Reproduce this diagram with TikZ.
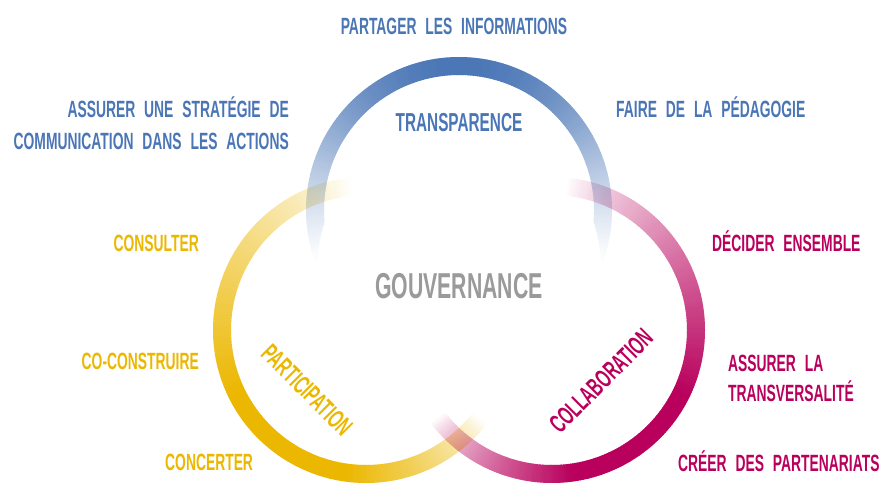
\documentclass[tikz,border=0pt]{standalone}
\usepackage{fontspec}
\setmainfont{Liberation Sans}[FakeStretch=0.59, WordSpace=2.3]
\definecolor{bleu}{HTML}{4A76B6}
\definecolor{jaune}{HTML}{EBB700}
\definecolor{rose}{HTML}{B8005C}
\definecolor{gris}{HTML}{9A9A9A}
\tikzset{
  action/.style={font=\fontsize{23.5}{28}\selectfont\bfseries, inner sep=0pt},
  pilier/.style={font=\fontsize{26}{30}\selectfont\bfseries, inner sep=0pt},
}
\begin{document}
\begin{tikzpicture}[x=1pt,y=1pt]
  \useasboundingbox (0,0) rectangle (880,484);

  % anneau jaune
  \begin{scope}[blend mode=multiply]
  \begin{scope}[transparency group, shift={(366,154)}]
    \foreach \s in {0,...,225}{
      \pgfmathsetmacro\a{96+\s}
      \pgfmathtruncatemacro\p{100*pow(min(1,(\s+0.5)/110),0.8)*pow(min(1,(225.5-\s)/60),0.7)}
      \draw[line width=18pt, draw=jaune!\p!white] (\a:144) arc[start angle=\a, end angle=\a+1.3, radius=144];
    }
  \end{scope}
  \end{scope}

  % anneau rose
  \begin{scope}[blend mode=multiply]
  \begin{scope}[transparency group, shift={(552,154)}]
    \foreach \s in {0,...,225}{
      \pgfmathsetmacro\a{84-\s}
      \pgfmathtruncatemacro\p{100*pow(min(1,(\s+0.5)/110),0.8)*pow(min(1,(225.5-\s)/60),0.7)}
      \draw[line width=18pt, draw=rose!\p!white] (\a:144) arc[start angle=\a, end angle=\a-1.3, radius=144];
    }
  \end{scope}
  \end{scope}

  % anneau bleu
  \begin{scope}[blend mode=multiply]
  \begin{scope}[transparency group, shift={(459,274)}]
    \foreach \a in {-22,...,201}{
      \pgfmathsetmacro\m{\a+0.5}
      \pgfmathsetmacro\w{18*min(1,min(\m+22,202-\m)/17)}
      \pgfmathsetmacro\r{153-\w/2}
      \pgfmathtruncatemacro\p{100*pow(max((sin(\m)+0.37)/1.37,0.001),1.2)}
      \draw[line width=\w pt, draw=bleu!\p!white] (\a:\r) arc[start angle=\a, end angle=\a+1.3, radius=\r];
    }
  \end{scope}
  \end{scope}

  \node[action, text=bleu, anchor=base] (partager) at (454,449) {PARTAGER LES INFORMATIONS};
  \node[action, text=bleu, anchor=base east] (strategie) at (289,366) {ASSURER UNE STRATÉGIE DE};
  \node[action, text=bleu, anchor=base east] (communication) at (289,334) {COMMUNICATION DANS LES ACTIONS};
  \node[action, text=bleu, anchor=base west] (pedagogie) at (616,366) {FAIRE DE LA PÉDAGOGIE};
  \node[pilier, text=bleu, anchor=base] (transparence) at (459,352) {TRANSPARENCE};

  \node[font=\fontsize{36}{40}\selectfont\bfseries, inner sep=0pt, text=gris, anchor=base] (gouvernance) at (459,185) {GOUVERNANCE};

  \node[action, text=jaune, anchor=base east] (consulter) at (199,232) {CONSULTER};
  \node[action, text=jaune, anchor=base east] (coconstruire) at (199,114) {CO-CONSTRUIRE};
  \node[action, text=jaune, anchor=base west] (concerter) at (165,13) {CONCERTER};
  \node[pilier, text=jaune, rotate=-45] (participation) at (307,94) {PARTICIPATION};

  \node[action, text=rose, anchor=base west] (decider) at (712,232) {DÉCIDER ENSEMBLE};
  \node[action, text=rose, anchor=base west] (assurer) at (728,112) {ASSURER LA};
  \node[action, text=rose, anchor=base west] (transversalite) at (728,82) {TRANSVERSALITÉ};
  \node[action, text=rose, anchor=base west] (partenariats) at (678,12) {CRÉER DES PARTENARIATS};
  \node[pilier, text=rose, rotate=45] (collaboration) at (601,103) {COLLABORATION};
\end{tikzpicture}
\end{document}
